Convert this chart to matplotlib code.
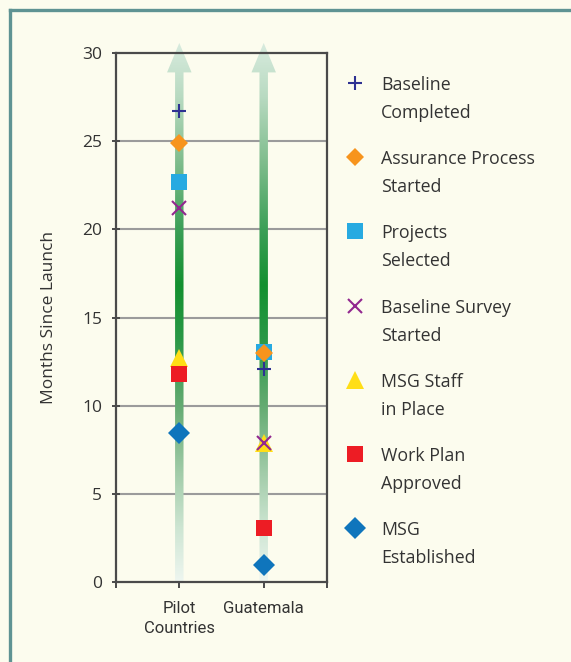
import numpy as np
import matplotlib
matplotlib.use('Agg')
import matplotlib.pyplot as plt
from matplotlib.colors import LinearSegmentedColormap
from matplotlib.lines import Line2D
from matplotlib.patches import Polygon

# data
categories = ['Pilot\nCountries', 'Guatemala']
cat_pos = [1, 2]

milestones = ['Baseline\nCompleted', 'Assurance Process\nStarted', 'Projects\nSelected',
              'Baseline Survey\nStarted', 'MSG Staff\nin Place', 'Work Plan\nApproved',
              'MSG\nEstablished']
baseline_completed = [26.7, 12.1]
assurance_started = [24.9, 13.0]
projects_selected = [22.7, 13.05]
survey_started = [21.2, 7.9]
staff_in_place = [12.7, 7.9]
work_plan_approved = [11.8, 3.05]
msg_established = [8.45, 0.95]

series = [baseline_completed, assurance_started, projects_selected, survey_started,
          staff_in_place, work_plan_approved, msg_established]

# marker, colour, size, edge width  (same order as milestones)
styles = [
    dict(marker='+', color='#2e3192', ms=10.5, mew=1.5),
    dict(marker='D', color='#f7941d', ms=9.2, mew=0),
    dict(marker='s', color='#27aae1', ms=12, mew=0),
    dict(marker='x', color='#92278f', ms=9.5, mew=1.5),
    dict(marker='^', color='#ffde17', ms=13, mew=0),
    dict(marker='s', color='#ed1c24', ms=12, mew=0),
    dict(marker='D', color='#0f75bc', ms=11.5, mew=0),
]
draw_order = [4, 5, 2, 1, 3, 0, 6]

bg = '#fcfcee'
txt = '#333333'
plt.rcParams['font.family'] = ['Open Sans', 'DejaVu Sans']

fig = plt.figure(figsize=(5.71, 6.62), dpi=100, facecolor=bg)
ax = fig.add_axes([116/571, 80/662, 211/571, 529/662])
ax.set_facecolor('none')

# frame lines of the panel
fig.add_artist(Line2D([9.5/571, 1], [1 - 9.5/662, 1 - 9.5/662], transform=fig.transFigure,
                      color='#5f9393', lw=2.4))
fig.add_artist(Line2D([9.5/571, 9.5/571], [0, 1 - 9.5/662], transform=fig.transFigure,
                      color='#5f9393', lw=2.4))

ax.set_xlim(0.25, 2.75)
ax.set_ylim(0, 30)

for y in range(5, 30, 5):
    ax.axhline(y, color='#9b9b9b', lw=1.5, zorder=1)

# gradient arrows
grad = LinearSegmentedColormap.from_list('arrow', [
    (0.0, '#eef6f0'), (0.1, '#cde5d2'), (0.2, '#a2cca9'), (0.33, '#62aa70'),
    (0.45, '#2a9846'), (0.55, '#13902f'), (0.65, '#3a9e55'), (0.78, '#80bd8d'),
    (0.9, '#b8dac1'), (1.0, '#d8ebde')])
tip = 30.57
head_base = 28.9
hw, hh = 0.05, 0.145
for x0 in cat_pos:
    pts = [(x0 - hw, 0), (x0 + hw, 0), (x0 + hw, head_base), (x0 + hh, head_base),
           (x0, tip), (x0 - hh, head_base), (x0 - hw, head_base)]
    patch = Polygon(pts, closed=True, facecolor='none', edgecolor='none',
                    transform=ax.transData)
    ax.add_patch(patch)
    patch.set_clip_on(False)
    im = ax.imshow(np.linspace(0, 1, 256).reshape(-1, 1), cmap=grad, origin='lower',
                   extent=[x0 - hh, x0 + hh, 0, tip], aspect='auto', zorder=2,
                   interpolation='bilinear')
    im.set_clip_box(fig.bbox)
    im.set_clip_path(patch)

ax.set_xlim(0.25, 2.75)
ax.set_ylim(0, 30)

for i in draw_order:
    st = styles[i]
    ax.plot(cat_pos, series[i], linestyle='none', marker=st['marker'], color=st['color'],
            markersize=st['ms'], markeredgewidth=st['mew'], zorder=3 + draw_order.index(i),
            clip_on=False)

# axes styling
for s in ax.spines.values():
    s.set_color('#4a4a4a')
    s.set_linewidth(1.6)
    s.set_zorder(10)

ax.set_yticks(range(0, 31, 5))
ax.set_xticks([0.25] + cat_pos + [2.75])
ax.set_xticklabels([''] + categories + [''], family=['Roboto', 'DejaVu Sans'],
                   fontsize=12, color=txt, linespacing=1.4)
ax.tick_params(axis='y', direction='inout', length=6, width=1.4, color='#4a4a4a',
               labelsize=12.5, labelcolor=txt, pad=7)
ax.tick_params(axis='x', direction='out', length=4, width=1.4, color='#4a4a4a', pad=10)
ax.set_ylabel('Months Since Launch', fontsize=12.5, color=txt)
ax.yaxis.set_label_coords(-59/211, 0.5)

# legend drawn at the right
for i, lab in enumerate(milestones):
    st = styles[i]
    y_base = 1 - (90 + 74.2 * i) / 662
    first, second = lab.split('\n')
    fig.text(381/571, y_base, first, fontsize=12.8, color=txt, va='baseline', ha='left')
    fig.text(381/571, y_base - 28/662, second, fontsize=12.8, color=txt, va='baseline', ha='left')
    fig.add_artist(Line2D([355/571], [y_base + 7/662], transform=fig.transFigure,
                          linestyle='none', marker=st['marker'], color=st['color'],
                          markersize=st['ms'], markeredgewidth=st['mew']))

fig.savefig('out.png', dpi=100, facecolor=bg)
